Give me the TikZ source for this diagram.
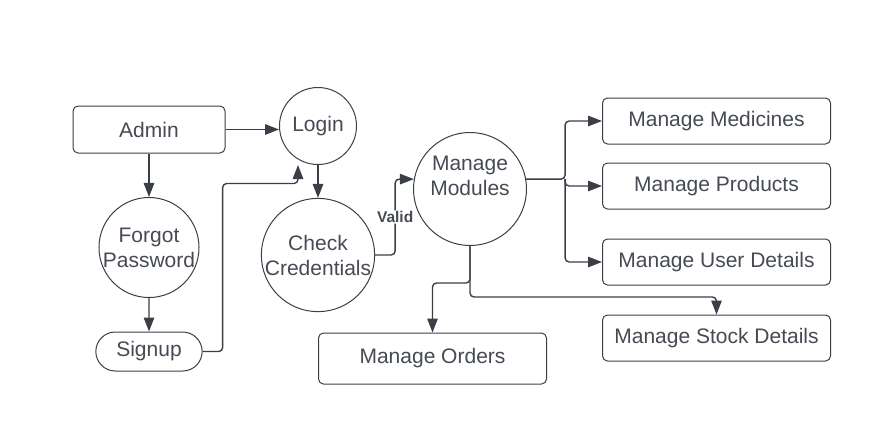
\documentclass[tikz,border=0pt]{standalone}
\usepackage{fontspec}
\setmainfont{Liberation Sans}
\usetikzlibrary{positioning,arrows.meta,shapes.misc}
\definecolor{inkline}{HTML}{3A3F47}
\definecolor{inktext}{HTML}{454A53}

\begin{document}
\begin{tikzpicture}[
  on grid,
  font=\fontsize{21}{25}\selectfont,
  every node/.style={draw=inkline, line width=1pt, text=inktext},
  box/.style={rectangle, rounded corners=5pt, minimum width=228pt, minimum height=46pt},
  bubble/.style={circle, inner sep=0pt, align=center},
  pill/.style={rounded rectangle, minimum width=113pt, minimum height=39pt},
  link/.style={draw=inkline, line width=1.4pt, rounded corners=4pt,
    -{Triangle[length=14pt,width=10.5pt]}},
  tag/.style={draw=none, fill=white, inner sep=1pt,
    font=\bfseries\fontsize{15.5}{18}\selectfont},
]
  \useasboundingbox (0,0) rectangle (885pt,-445pt);

  \node [box, minimum width=152pt, minimum height=47pt] (admin) at (149pt,-129.5pt) {Admin};
  \node [bubble, minimum size=77pt, above right=3.5pt and 169pt of admin] (login) {Login};
  \node [bubble, minimum size=95pt, below      =118pt of admin] (forgot) {Forgot\\Password};
  \node [pill, below      =104pt of forgot] (signup) {Signup};
  \node [bubble, minimum size=111pt, below      =129pt of login] (check) {Check\\Credentials};
  \node [bubble, minimum size=113pt, text depth=26pt,
         above right=66pt and 152pt of check] (modules) {Manage\\Modules};
  \node [box, above right=68pt and 246.5pt of modules] (medicines) {Manage Medicines};
  \node [box, below      =65pt of medicines] (products) {Manage Products};
  \node [box, below      =76pt of products] (users) {Manage User Details};
  \node [box, below      =76pt of users] (stock) {Manage Stock Details};
  \node [box, minimum height=51pt, below left=169.5pt and 37.5pt of modules] (orders) {Manage Orders};
  \coordinate (fork) at ([xshift=39pt]modules.10);

  \draw [link] (admin.east) -- (admin.east -| login.west);
  \draw [link] (admin) -- (forgot);
  \draw [link] (forgot) -- (signup);
  \draw [link] (signup.east) -- ++(20pt,0)
               |- ([shift={(-20pt,-18.5pt)}]login.south)
               -- ([xshift=-20pt]login.south);
  \draw [link] (login) -- (check);
  \draw [link] (check.east) -- ++(20pt,0) |- node [tag, pos=0.25] {Valid} (modules.170);
  \draw [link] (modules.10) -- (fork) |- (medicines.west);
  \draw [link] (fork) |- (products.west);
  \draw [link] (fork) |- (users.west);
  \draw [link] (modules.south) -- ++(0,-37pt) -| (orders.north);
  \draw [link] (modules.south) -- ++(0,-51pt) -| (stock.north);
\end{tikzpicture}
\end{document}
